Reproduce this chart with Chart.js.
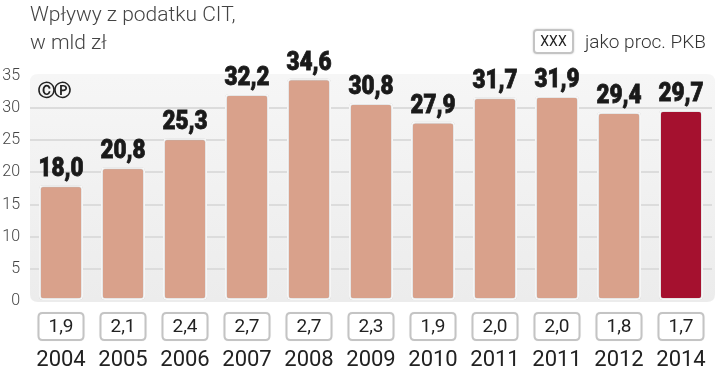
<!DOCTYPE html>
<html>
<head>
<meta charset="utf-8">
<script src="https://cdn.jsdelivr.net/npm/chart.js@4.4.1/dist/chart.umd.min.js"></script>
<style>
  body { margin: 0; background: #fff; }
  #wrap { position: relative; width: 720px; height: 371px; }
  .title { position: absolute; left: 30px; top: 0px; font: 300 21px Roboto, sans-serif; color: #444; line-height: 28px; }
  .legendBox { position: absolute; left: 533px; top: 29px; width: 37px; height: 21px; border: 2px solid #c4c4c4; border-radius: 4px;
               font: 400 14px Roboto, sans-serif; color: #222; text-align: center; line-height: 21px; box-shadow: 0 0 2px rgba(0,0,0,0.2); }
  .legendText { position: absolute; left: 585px; top: 29px; font: 300 19px Roboto, sans-serif; color: #333; line-height: 26px; }
  .logo { position: absolute; left: 38px; top: 79px; font: bold 17px "DejaVu Sans", sans-serif; color: #222; letter-spacing: -1px; }
</style>
</head>
<body>
<div id="wrap">
  <canvas id="citChart" width="720" height="371"></canvas>
  <div class="title">Wpływy z podatku CIT,<br>w mld zł</div>
  <div class="legendBox">XXX</div>
  <div class="legendText">jako proc. PKB</div>
  <div class="logo">ⒸⓅ</div>
</div>
<script>
// dane
var years = ['2004', '2005', '2006', '2007', '2008', '2009', '2010', '2011', '2011', '2012', '2014'];
var citValues = [18.0, 20.8, 25.3, 32.2, 34.6, 30.8, 27.9, 31.7, 31.9, 29.4, 29.7];
var pctOfGdp = [1.9, 2.1, 2.4, 2.7, 2.7, 2.3, 1.9, 2.0, 2.0, 1.8, 1.7];
var yTicks = [0, 5, 10, 15, 20, 25, 30, 35];

var barColor = '#d9a18b';
var lastBarColor = '#a5112f';

function fmt(v) {
    return v.toFixed(1).replace('.', ',');
}

function roundRect(ctx, x, y, w, h, r) {
    ctx.beginPath();
    ctx.moveTo(x + r, y);
    ctx.lineTo(x + w - r, y);
    ctx.quadraticCurveTo(x + w, y, x + w, y + r);
    ctx.lineTo(x + w, y + h - r);
    ctx.quadraticCurveTo(x + w, y + h, x + w - r, y + h);
    ctx.lineTo(x + r, y + h);
    ctx.quadraticCurveTo(x, y + h, x, y + h - r);
    ctx.lineTo(x, y + r);
    ctx.quadraticCurveTo(x, y, x + r, y);
    ctx.closePath();
}

// szare tlo pod wykresem
var panelPlugin = {
    id: 'panel',
    beforeDraw(chart) {
        const ctx = chart.ctx;
        const a = chart.chartArea;
        ctx.save();
        const g = ctx.createLinearGradient(0, a.top, 0, a.bottom);
        g.addColorStop(0, '#f6f6f6');
        g.addColorStop(1, '#ececec');
        ctx.fillStyle = g;
        roundRect(ctx, a.left, a.top - 2, a.right - a.left + 3, a.bottom - a.top + 3, 8);
        ctx.fill();
        ctx.restore();
    }
};

// cien slupkow, etykiety wartosci, ramki z procentami i lata
var labelsPlugin = {
    id: 'barLabels',
    beforeDatasetsDraw(chart) {
        const ctx = chart.ctx;
        ctx.save();
        ctx.shadowColor = 'rgba(0,0,0,0.28)';
        ctx.shadowBlur = 3;
    },
    afterDatasetsDraw(chart) {
        const ctx = chart.ctx;
        ctx.restore();
        const meta = chart.getDatasetMeta(0);
        ctx.save();
        meta.data.forEach((bar, i) => {
            // pogrubiona, zwezona etykieta wartosci
            ctx.save();
            ctx.translate(bar.x, bar.y - 9);
            ctx.scale(0.9, 1);
            ctx.font = '900 25px Roboto, sans-serif';
            ctx.fillStyle = '#1a1a1a';
            ctx.strokeStyle = '#1a1a1a';
            ctx.lineWidth = 0.8;
            ctx.textAlign = 'center';
            ctx.textBaseline = 'alphabetic';
            ctx.fillText(fmt(citValues[i]), 0, 0);
            ctx.strokeText(fmt(citValues[i]), 0, 0);
            ctx.restore();

            // ramka z procentem PKB
            const bw = 45, bh = 27;
            const bx = bar.x - bw / 2, by = 313;
            ctx.save();
            ctx.shadowColor = 'rgba(0,0,0,0.2)';
            ctx.shadowBlur = 2;
            ctx.fillStyle = '#fff';
            roundRect(ctx, bx, by, bw, bh, 4);
            ctx.fill();
            ctx.restore();
            ctx.strokeStyle = '#c4c4c4';
            ctx.lineWidth = 2;
            roundRect(ctx, bx, by, bw, bh, 4);
            ctx.stroke();
            ctx.font = '400 19px Roboto, sans-serif';
            ctx.fillStyle = '#222';
            ctx.textAlign = 'center';
            ctx.textBaseline = 'middle';
            ctx.fillText(fmt(pctOfGdp[i]), bar.x, by + bh / 2 + 1);

            // rok pod ramka
            ctx.font = '400 22px Roboto, sans-serif';
            ctx.textBaseline = 'alphabetic';
            ctx.fillText(chart.data.labels[i], bar.x, 366);
        });
        ctx.restore();
    }
};

var ctx = document.getElementById('citChart');
var chart = new Chart(ctx, {
    type: 'bar',
    data: {
        labels: years,
        datasets: [{
            data: citValues,
            backgroundColor: citValues.map((v, i) => i === citValues.length - 1 ? lastBarColor : barColor),
            borderColor: '#ffffff',
            borderWidth: 2,
            borderRadius: 4,
            borderSkipped: false,
            categoryPercentage: 1,
            barPercentage: 0.71
        }]
    },
    options: {
        responsive: false,
        animation: false,
        layout: {
            padding: { top: 76, right: 8, left: 0, bottom: 70 }
        },
        plugins: {
            legend: { display: false },
            tooltip: { enabled: false }
        },
        scales: {
            x: {
                display: false
            },
            y: {
                min: 0,
                max: 35,
                afterFit(scale) { scale.width = 30; },
                afterBuildTicks(scale) { scale.ticks = yTicks.map(v => ({ value: v })); },
                border: { display: false },
                grid: {
                    drawTicks: false,
                    lineWidth: 2,
                    color: (c) => (c.tick && (c.tick.value === 0 || c.tick.value === 35)) ? 'rgba(0,0,0,0)' : '#dcdcdc'
                },
                ticks: {
                    padding: 10,
                    color: '#444',
                    font: { family: 'Roboto', size: 16, weight: '300' }
                }
            }
        }
    },
    plugins: [panelPlugin, labelsPlugin]
});
</script>
</body>
</html>
